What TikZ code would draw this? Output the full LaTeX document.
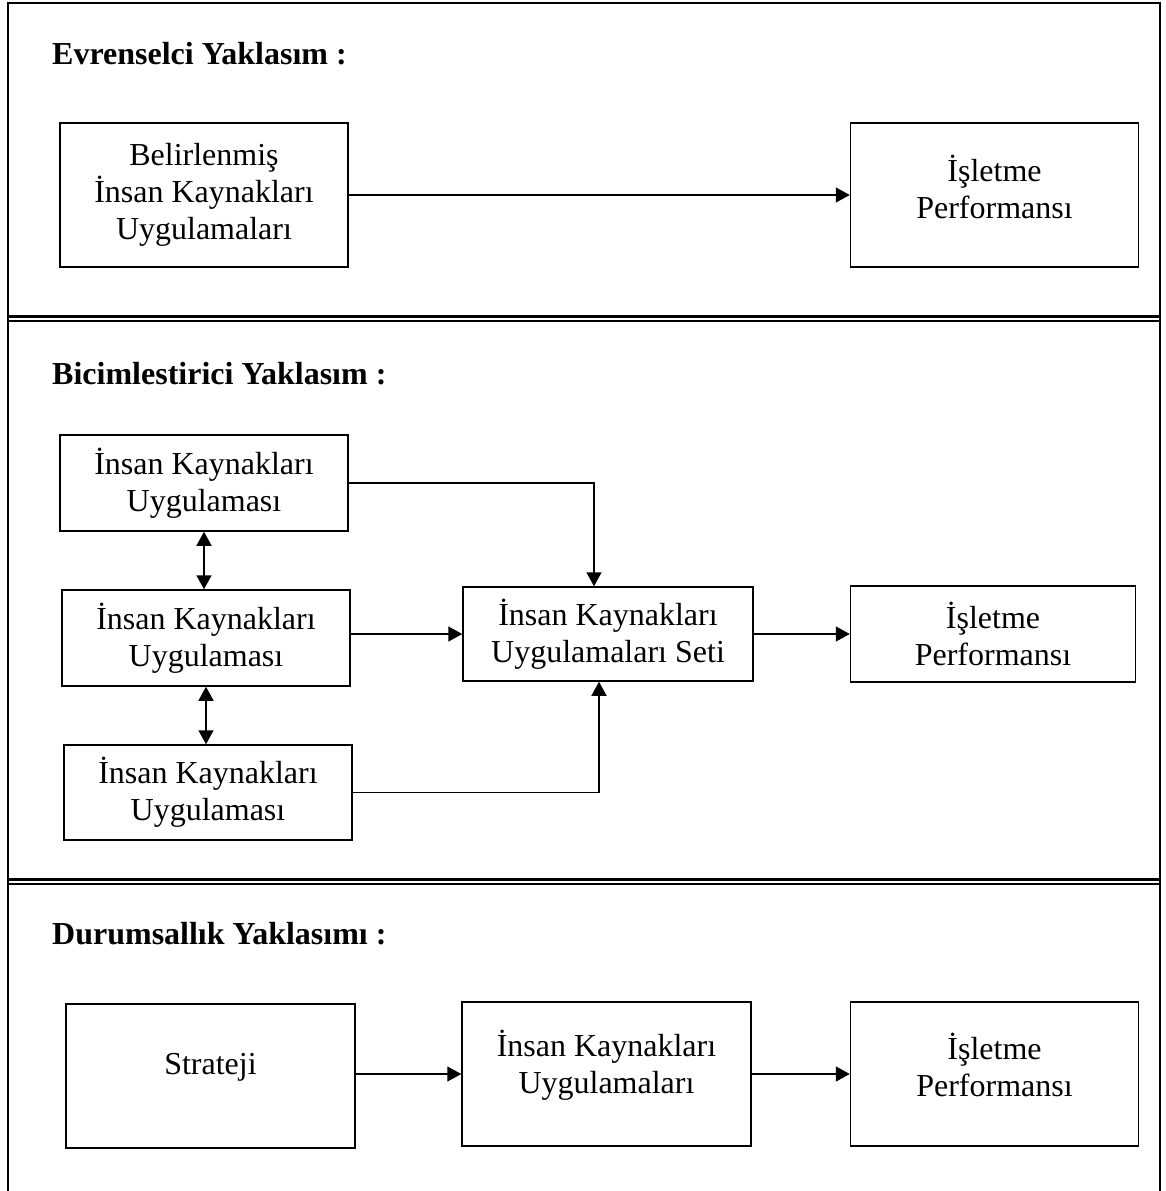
\documentclass[tikz,border=0pt]{standalone}
\usepackage{fontspec}
\setmainfont{Liberation Serif}
\usepackage{tikz}
\usetikzlibrary{arrows.meta,positioning,calc}

\begin{document}
\begin{tikzpicture}[x=1pt,y=-1pt,
kutu/.style={draw,line width=1.5pt,inner sep=0pt,align=center,font=\fontsize{32}{37}\selectfont},
genis/.style={kutu,minimum width=288pt,minimum height=144pt},
dar/.style={kutu,minimum width=288pt,minimum height=96pt},
yukari/.style={text depth=#1},
baslik/.style={anchor=base west,inner sep=0pt,font=\fontsize{32}{37}\selectfont\bfseries},
arr/.style={-{Triangle[length=14pt,width=15pt]},line width=1.5pt},
iki/.style={{Triangle[length=14pt,width=15pt]}-{Triangle[length=14pt,width=15pt]},line width=1.5pt}
]
\useasboundingbox (0,0) rectangle (1166,1191);

% cerceve ve ayiricilar
\draw[line width=2pt] (8,1191) -- (8,3) -- (1160,3) -- (1160,1191);
\draw[line width=3pt] (8,316) -- (1160,316);
\draw[line width=1.5pt] (8,321) -- (1160,321);
\draw[line width=3pt] (8,879) -- (1160,879);
\draw[line width=1.5pt] (8,884) -- (1160,884);

% evrenselci
\node[baslik] (b1) at (52,64) {Evrenselci Yaklasım :};
\node[genis] (bel) at (204,195) {Belirlenmiş\\İnsan Kaynakları\\Uygulamaları};
\node[genis,yukari=16pt,right=501pt of bel] (isp1) {İşletme\\Performansı};
\draw[arr] (bel) -- (isp1);

% bicimlestirici
\node[baslik] (b2) at (52,384) {Bicimlestirici Yaklasım :};
\node[dar] (ik1) at (204,483) {İnsan Kaynakları\\Uygulaması};
\node[dar] (ik2) at (206,638) {İnsan Kaynakları\\Uygulaması};
\node[dar,minimum height=95pt] (ik3) at (208,792.5) {İnsan Kaynakları\\Uygulaması};
\node[dar,minimum width=290pt,minimum height=94pt] (set) at (608,634) {İnsan Kaynakları\\Uygulamaları Seti};
\node[dar,minimum width=285pt,right=96pt of set] (isp2) {İşletme\\Performansı};
\draw[iki] (ik1.south) -- (ik1.south |- ik2.north);
\draw[iki] (ik2.south) -- (ik2.south |- ik3.north);
\draw[arr] (ik1.east) -| ([xshift=-14pt]set.north);
\draw[arr] (ik2.east |- set.west) -- (set.west);
\draw[arr] (ik3.east) -| ([xshift=-9pt]set.south);
\draw[arr] (set) -- (isp2);

% durumsallik
\node[baslik] (b3) at (52,944) {Durumsallık Yaklasımı :};
\node[genis,yukari=25pt,minimum width=289pt] (str) at (210.5,1076) {Strateji};
\node[genis,yukari=25pt,minimum width=289pt] (ihu) at (606.5,1074) {İnsan Kaynakları\\Uygulamaları};
\node[genis,yukari=18pt,right=98pt of ihu] (isp3) {İşletme\\Performansı};
\draw[arr] (str.east |- ihu.west) -- (ihu);
\draw[arr] (ihu) -- (isp3);
\end{tikzpicture}
\end{document}
